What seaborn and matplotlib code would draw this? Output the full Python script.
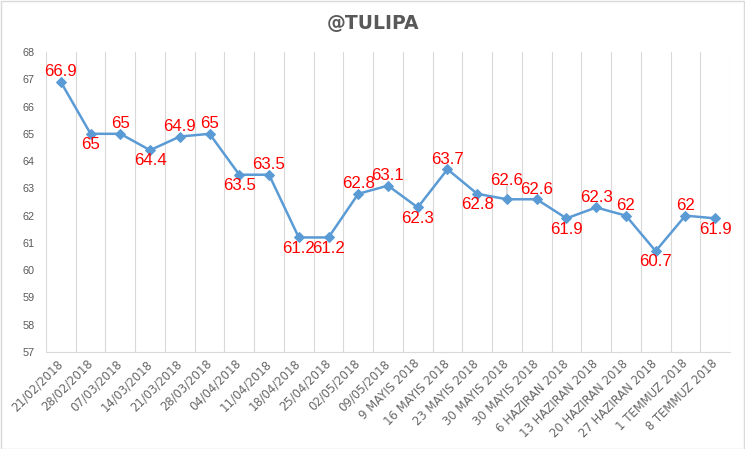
import matplotlib
matplotlib.use("Agg")
import matplotlib.pyplot as plt
import seaborn as sns
import pandas as pd
from matplotlib.patches import Rectangle

dates = ["21/02/2018", "28/02/2018", "07/03/2018", "14/03/2018", "21/03/2018",
         "28/03/2018", "04/04/2018", "11/04/2018", "18/04/2018", "25/04/2018",
         "02/05/2018", "09/05/2018", "9 MAYIS 2018", "16 MAYIS 2018",
         "23 MAYIS 2018", "30 MAYIS 2018", "30 MAYIS 2018", "6 HAZIRAN 2018",
         "13 HAZIRAN 2018", "20 HAZIRAN 2018", "27 HAZIRAN 2018",
         "1 TEMMUZ 2018", "8 TEMMUZ 2018"]
values = [66.9, 65, 65, 64.4, 64.9, 65, 63.5, 63.5, 61.2, 61.2, 62.8, 63.1,
          62.3, 63.7, 62.8, 62.6, 62.6, 61.9, 62.3, 62, 60.7, 62, 61.9]
value_labels = ["66.9", "65", "65", "64.4", "64.9", "65", "63.5", "63.5", "61.2",
                "61.2", "62.8", "63.1", "62.3", "63.7", "62.8", "62.6", "62.6",
                "61.9", "62.3", "62", "60.7", "62", "61.9"]
# label placement: 1 = above, -1 = below
label_side = [1, -1, 1, -1, 1, 1, -1, 1, -1, -1, 1, 1, -1, 1, -1, 1, 1, -1, 1, 1, -1, 1, -1]
y_ticks = list(range(57, 69))

df = pd.DataFrame({"pos": range(len(values)), "value": values})

sns.set_style("white")
plt.rcParams["font.family"] = ["Liberation Sans", "DejaVu Sans"]

fig = plt.figure(figsize=(7.45, 4.49), dpi=100)
ax = fig.add_axes([46 / 745, 1 - 352 / 449, (730 - 46) / 745, (352 - 52) / 449])

sns.lineplot(data=df, x="pos", y="value", ax=ax, color="#5B9BD5", linewidth=1.8,
             marker="D", markersize=5.5, markeredgecolor="#5B9BD5", zorder=3)

ax.set_xlim(-0.5, len(values) - 0.5)
ax.set_ylim(57, 68)
ax.set_yticks(y_ticks)
ax.set_yticklabels([str(t) for t in y_ticks], color="#595959", fontsize=7.8)
ax.set_xticks(range(len(values)))
ax.set_xticklabels(dates, rotation=45, ha="right", va="center",
                   rotation_mode="anchor", color="#666666", fontsize=8.4,
                   family="DejaVu Sans")
ax.set_xticks([i - 0.5 for i in range(len(values) + 1)], minor=True)
ax.tick_params(axis="both", which="both", length=0)
ax.tick_params(axis="y", pad=8)
ax.tick_params(axis="x", pad=7)
ax.grid(False)
ax.grid(True, axis="x", which="minor", color="#D9D9D9", linewidth=0.8, zorder=0)
ax.set_axisbelow(True)
for s in ["top", "right", "left"]:
    ax.spines[s].set_visible(False)
ax.spines["bottom"].set_color("#D9D9D9")
ax.spines["bottom"].set_linewidth(0.8)
ax.set_xlabel("")
ax.set_ylabel("")

for i, (v, lab, side) in enumerate(zip(values, value_labels, label_side)):
    dy = 4 if side > 0 else -11
    if i == 15:
        dy = 10
        ax.annotate("", (i, v), xytext=(0, dy), textcoords="offset points",
                    arrowprops=dict(arrowstyle="-", color="#A6A6A6", lw=0.6,
                                    shrinkA=0, shrinkB=2), zorder=2)
    ax.annotate(lab, (i, v), xytext=(0, dy), textcoords="offset points",
                ha="center", va="baseline", color="#FF0000", fontsize=12.2,
                zorder=4)

fig.text(0.5, 1 - 23 / 449, "@TULIPA", ha="center", va="center",
         fontsize=13.5, fontweight="bold", color="#595959", family="DejaVu Sans")

fig.patches.append(Rectangle((0.5 / 745, 0.5 / 449), 1 - 1.5 / 745, 1 - 1.5 / 449,
                             transform=fig.transFigure, fill=False,
                             edgecolor="#D9D9D9", linewidth=1))

fig.savefig("out.png", dpi=100)
